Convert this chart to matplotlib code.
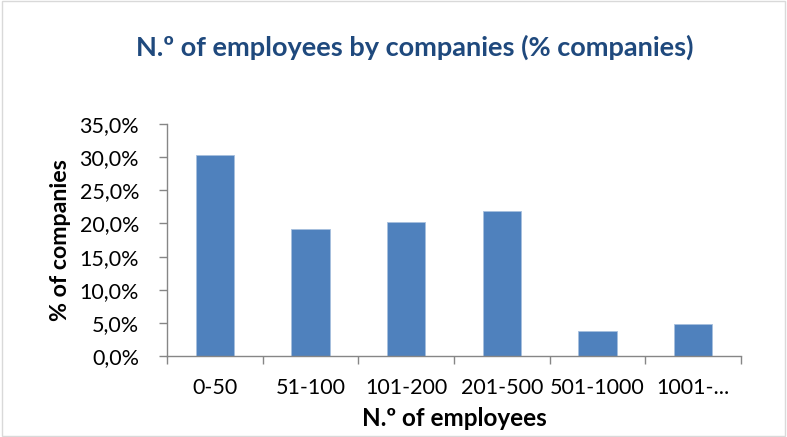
import matplotlib
matplotlib.use("Agg")
import matplotlib.pyplot as plt
import numpy as np
from matplotlib.ticker import FuncFormatter, FixedLocator, NullFormatter

categories = ["0-50", "51-100", "101-200", "201-500", "501-1000", "1001-..."]
values = [30.3, 19.1, 20.2, 21.9, 3.8, 4.9]
yticks = [0, 5, 10, 15, 20, 25, 30, 35]

plt.rcParams['font.family'] = ['Lato', 'DejaVu Sans']

fig = plt.figure(figsize=(7.87, 4.37), dpi=100)
ax = fig.add_axes([0.212, 0.1854, 0.7296, 0.5306])

x = np.arange(len(categories))
ax.bar(x, values, width=0.4, color="#4F81BD", edgecolor="#A7BFDE", linewidth=0.6, zorder=2)

ax.set_xlim(-0.5, len(categories) - 0.5)
ax.set_ylim(0, 35)
ax.set_yticks(yticks)
ax.yaxis.set_major_formatter(FuncFormatter(lambda v, p: f"{v:.1f}%".replace(".", ",")))

ax.set_xticks(x)
ax.set_xticklabels(categories)
ax.xaxis.set_minor_locator(FixedLocator(np.arange(-0.5, len(categories), 1.0)))
ax.xaxis.set_minor_formatter(NullFormatter())
ax.tick_params(axis='x', which='major', length=0, pad=16, labelsize=15.5, colors='black')
ax.tick_params(axis='x', which='minor', length=6, width=1, color='#868686')
ax.tick_params(axis='y', which='major', length=6, width=1, color='#868686', labelsize=15.5, pad=14)

for s in ['top', 'right']:
    ax.spines[s].set_visible(False)
for s in ['left', 'bottom']:
    ax.spines[s].set_color('#868686')
    ax.spines[s].set_linewidth(1)

ax.set_xlabel("N.º of employees", fontsize=17.5, fontweight='bold', labelpad=6)
ax.set_ylabel("% of companies", fontsize=16.7, fontweight='bold', labelpad=6)

fig.text(0.527, 0.892, "N.º of employees by companies (% companies)", ha='center', va='center',
         fontsize=19.5, fontweight='bold', color='#1F497D')

fig.patches.append(plt.Rectangle((0.002, 0.003), 0.996, 0.994, transform=fig.transFigure,
                                 fill=False, edgecolor='#D9D9D9', linewidth=1))

fig.savefig("out.png", dpi=100)
